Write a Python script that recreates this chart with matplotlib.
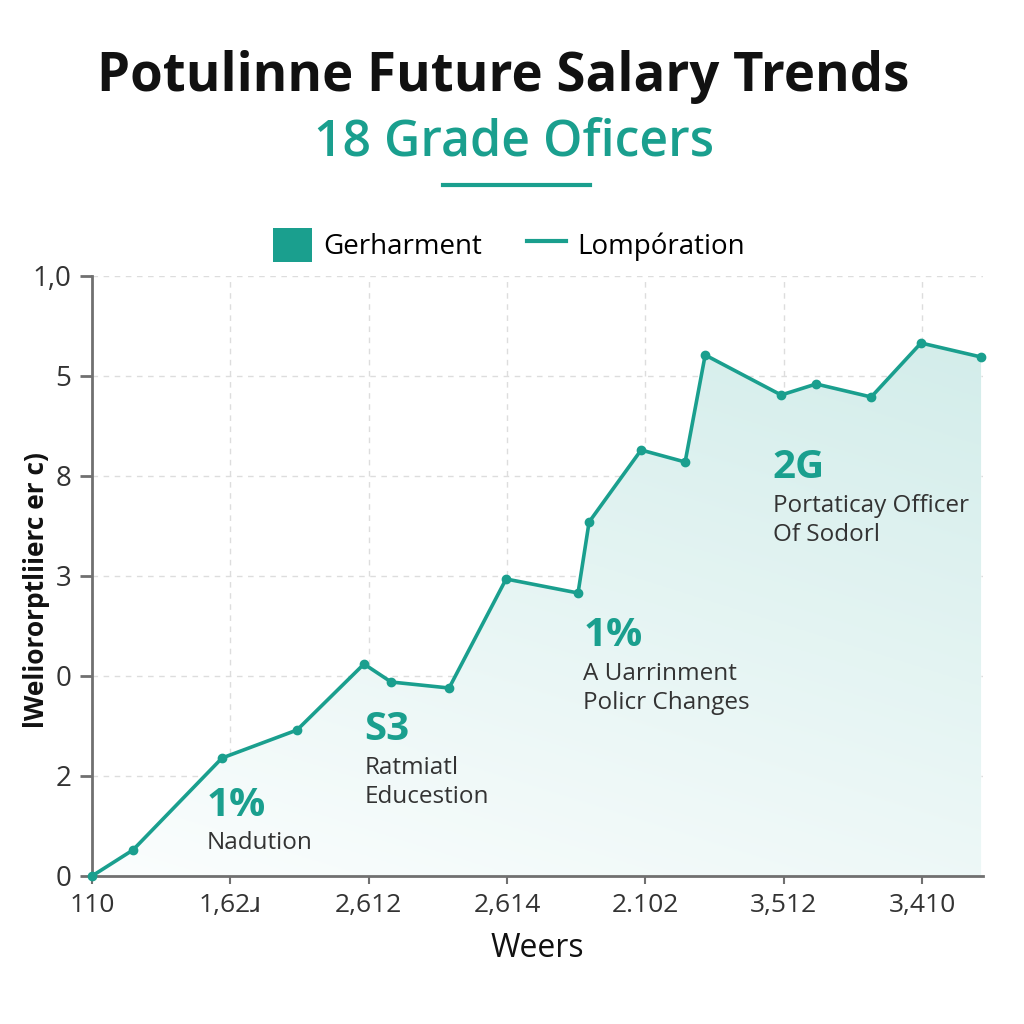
import matplotlib.pyplot as plt
import numpy as np
from matplotlib.patches import Polygon, Patch
from matplotlib.lines import Line2D

# data
x_vals = [0, 0.296, 0.940, 1.482, 1.966, 2.162, 2.581, 2.993, 3.513, 3.593,
          3.969, 4.287, 4.432, 4.981, 5.234, 5.632, 5.992, 6.426]
y_vals = [0, 0.26, 1.18, 1.46, 2.12, 1.94, 1.88, 2.97, 2.83, 3.54,
          4.26, 4.14, 5.21, 4.81, 4.92, 4.79, 5.33, 5.19]
x_ticklabels = ["110", "1,62\u0279", "2,612", "2,614", "2.102", "3,512", "3,410"]
y_ticklabels = ["0", "2", "0", "3", "8", "5", "1,0"]

# callouts: (x, y, big text, caption lines)
callouts = [
    (0.83, 0.71, "1%", ["Nadution"]),
    (1.97, 1.46, "S3", ["Ratmiatl", "Educestion"]),
    (3.55, 2.40, "1%", ["A Uarrinment", "Policr Changes"]),
    (4.92, 4.08, "2G", ["Portaticay Officer", "Of Sodorl"]),
]

teal = '#1a9f8e'
plt.rcParams['font.family'] = ['Open Sans', 'DejaVu Sans']

fig = plt.figure(figsize=(10.24, 10.24), dpi=100)
ax = fig.add_axes([92 / 1024, 148 / 1024, 891 / 1024, 600 / 1024])
xmax, ymax = 6.44, 6.0
ax.set_xlim(0, xmax)
ax.set_ylim(0, ymax)

# gradient fill under the line
ny, nx = 200, 200
gy = np.linspace(0, 1, ny)[:, None]
gx = np.linspace(0, 1, nx)[None, :]
t = np.clip(0.75 * gy + 0.35 * gx, 0, 1)
c0 = np.array([0.985, 0.995, 0.995])
c1 = np.array([0.83, 0.93, 0.92])
img = c0[None, None, :] * (1 - t[..., None]) + c1[None, None, :] * t[..., None]
im = ax.imshow(img, extent=[0, xmax, 0, ymax], origin='lower', aspect='auto', zorder=1)
poly = Polygon(list(zip(x_vals, y_vals)) + [(x_vals[-1], 0), (0, 0)],
               closed=True, facecolor='none', edgecolor='none')
ax.add_patch(poly)
im.set_clip_path(poly)

ax.plot(x_vals, y_vals, color=teal, lw=2.6, marker='o', ms=6, zorder=4, clip_on=False)

# axes styling
ax.set_xticks(range(7))
ax.set_xticklabels(x_ticklabels, fontsize=19, color='#333333')
ax.set_yticks(range(7))
ax.set_yticklabels(y_ticklabels, fontsize=20, color='#333333')
for s in ['top', 'right']:
    ax.spines[s].set_visible(False)
for s in ['left', 'bottom']:
    ax.spines[s].set_color('#707070')
    ax.spines[s].set_linewidth(2)
ax.tick_params(axis='y', length=9, width=2, color='#707070', pad=6)
ax.tick_params(axis='x', length=6, width=1.5, color='#707070', pad=6)
ax.grid(True, ls=(0, (4, 4)), color='#dddddd', lw=1, zorder=0)
ax.set_axisbelow(True)
ax.set_xlabel("Weers", fontsize=23, color='#111111', labelpad=10)
ax.set_ylabel("lWeliororptliierc er c)", fontsize=19, fontweight='bold',
              color='#111111', va='center')
ax.yaxis.set_label_coords(-0.062, 0.477)

for cx, cy, big, lines in callouts:
    ax.text(cx, cy, big, fontsize=29, fontweight='bold', color=teal,
            va='center', ha='left', zorder=5)
    for i, line in enumerate(lines):
        ax.text(cx, cy - 0.38 - i * 0.29, line, fontsize=17.5, color='#333333',
                va='center', ha='left', zorder=5)

# titles
fig.text(0.491, 0.925, "Potulinne Future Salary Trends", fontsize=38,
         fontweight='bold', color='#111111', ha='center', va='center')
fig.text(0.502, 0.861, "18 Grade Oficers", fontsize=36, fontweight='semibold',
         color=teal, ha='center', va='center')
fig.add_artist(Line2D([443 / 1024, 590 / 1024], [1 - 185 / 1024] * 2,
                      color=teal, lw=3))

# legend
handles = [Patch(facecolor=teal, edgecolor='none', label='Gerharment'),
           Line2D([0], [0], color=teal, lw=3, label='Lompóration')]
fig.legend(handles=handles, loc='center', bbox_to_anchor=(0.497, 1 - 245 / 1024),
           ncol=2, frameon=False, fontsize=20, handlelength=1.4, handleheight=1.5,
           columnspacing=1.6, handletextpad=0.4)

fig.savefig('out.png', dpi=100, facecolor='white')
